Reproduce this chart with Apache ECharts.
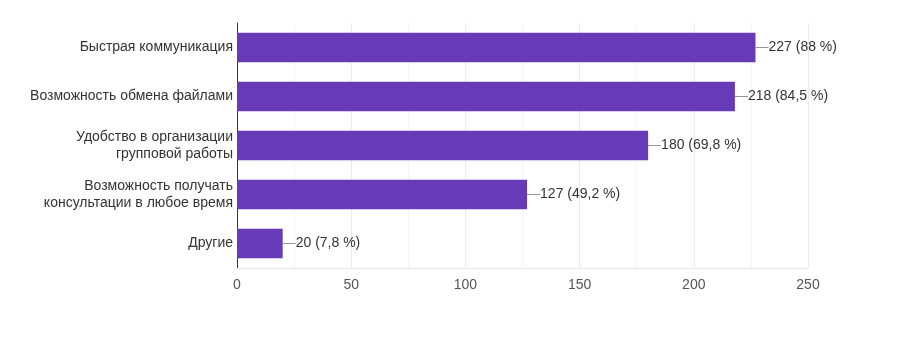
<!DOCTYPE html>
<html>
<head>
<meta charset="utf-8">
<script src="https://cdn.jsdelivr.net/npm/echarts@6/dist/echarts.min.js"></script>
<style>
  html, body { margin: 0; padding: 0; background: #fff; }
  #chart { width: 900px; height: 340px; }
</style>
</head>
<body>
<div id="chart"></div>
<script>
// категории сверху вниз
var categories = [
    'Быстрая коммуникация',
    'Возможность обмена файлами',
    'Удобство в организации\nгрупповой работы',
    'Возможность получать\nконсультации в любое время',
    'Другие'
];
var counts = [227, 218, 180, 127, 20];
var percents = ['88', '84,5', '69,8', '49,2', '7,8'];

var myChart = echarts.init(document.getElementById('chart'));
var option = {
    animation: false,
    grid: {
        left: 237,
        right: 92,
        top: 23,
        bottom: 72
    },
    xAxis: {
        type: 'value',
        min: 0,
        max: 250,
        interval: 50,
        axisLine: { show: true, lineStyle: { color: '#e6e6e6' } },
        axisTick: { show: false },
        axisLabel: {
            color: '#555',
            fontSize: 14,
            fontFamily: 'Liberation Sans, Arial, sans-serif',
            margin: 10
        },
        splitLine: { show: true, lineStyle: { color: '#ebebeb' } },
        minorTick: { show: false, splitNumber: 2 },
        minorSplitLine: { show: true, lineStyle: { color: '#f4f4f4' } }
    },
    yAxis: {
        type: 'category',
        inverse: true,
        data: categories,
        axisLine: { show: true, lineStyle: { color: '#333', width: 1 } },
        axisTick: { show: false },
        axisLabel: {
            color: '#333',
            fontSize: 14,
            lineHeight: 17,
            fontFamily: 'Liberation Sans, Arial, sans-serif',
            margin: 4,
            align: 'right'
        }
    },
    series: [
        {
            type: 'bar',
            data: counts,
            barWidth: '60%',
            itemStyle: { color: '#673ab7' },
            label: {
                show: true,
                position: 'right',
                distance: 0,
                fontFamily: 'Liberation Sans, Arial, sans-serif',
                fontSize: 14,
                color: '#333',
                formatter: function (p) {
                    return '{d|—}' + p.value + ' (' + percents[p.dataIndex] + ' %)';
                },
                rich: {
                    d: { color: '#888', fontSize: 13 }
                }
            }
        }
    ]
};
myChart.setOption(option);
</script>
</body>
</html>
